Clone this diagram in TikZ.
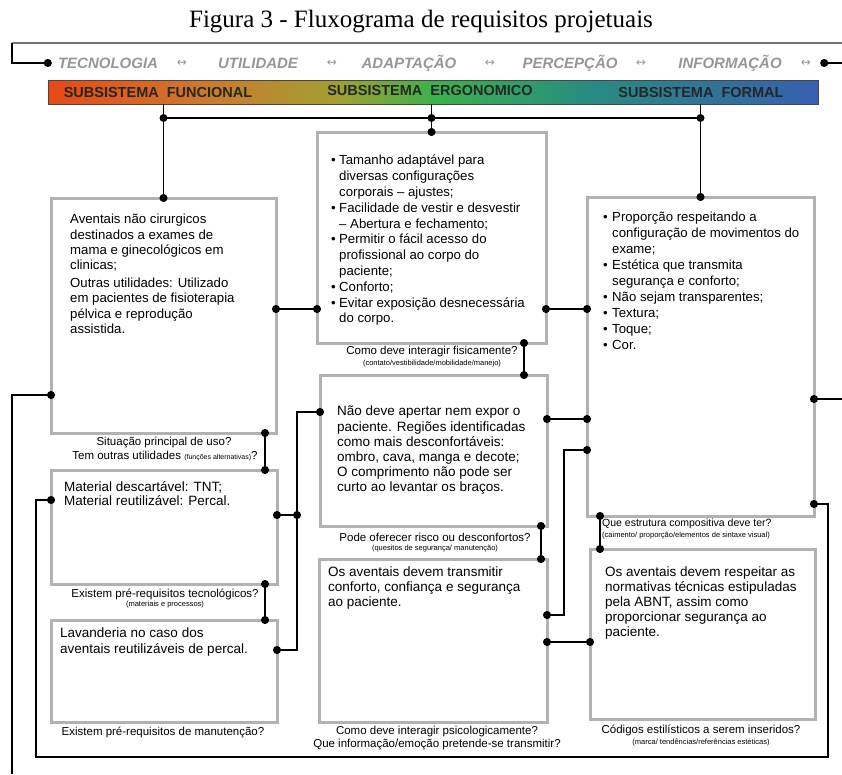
\documentclass[tikz,border=0pt]{standalone}
\usepackage{fontspec}
\setmainfont{Liberation Sans}
\newfontfamily\titlefont{Liberation Serif}
\newfontfamily\arrowfont{DejaVu Sans}
\usepackage{tikz}
\usetikzlibrary{arrows.meta}

\definecolor{boxgray}{RGB}{178,178,178}
\definecolor{wordgray}{RGB}{150,150,150}
\definecolor{barline}{RGB}{70,70,70}
\definecolor{barred}{RGB}{232,72,22}
\definecolor{barorange}{RGB}{205,120,45}
\definecolor{barolive}{RGB}{160,160,50}
\definecolor{bargreen}{RGB}{60,178,75}
\definecolor{barteal}{RGB}{40,140,128}
\definecolor{barblue}{RGB}{55,95,175}
\pgfdeclarehorizontalshading{subsystems}{100bp}{color(0bp)=(barred); color(25bp)=(barred); color(35bp)=(barorange); color(44bp)=(barolive); color(50bp)=(bargreen); color(60bp)=(barteal); color(75bp)=(barblue); color(100bp)=(barblue)}

\begin{document}
\begin{tikzpicture}[x=1pt, y=-1pt,
    box/.style={draw=boxgray, line width=3pt, inner sep=0pt, outer sep=0pt},
    wire/.style={line width=1.5pt, {Circle[length=8pt]}-{Circle[length=8pt]}, shorten <=-4pt, shorten >=-4pt},
    wirestart/.style={line width=1.5pt, {Circle[length=8pt]}-, shorten <=-4pt},
    wireend/.style={line width=1.5pt, -{Circle[length=8pt]}, shorten >=-4pt},
    plain/.style={line width=1.5pt},
    txt/.style={anchor=north west, align=left, inner sep=0pt},
    ask/.style={inner sep=0pt, font=\fontsize{11.5}{13}\selectfont},
    small/.style={inner sep=0pt, font=\fontsize{7.5}{9}\selectfont},
    word/.style={inner sep=0pt, text=wordgray, font=\fontsize{15}{18}\selectfont\bfseries\itshape},
    dblarrow/.style={inner sep=0pt, text=wordgray, font=\arrowfont\fontsize{12}{14}\selectfont},
    subsys/.style={inner sep=0pt, text=black!85, font=\fontsize{14.5}{16}\selectfont\bfseries}]
    \useasboundingbox (0,0) rectangle (842,774);

    % title
    \node[inner sep=0pt, font=\titlefont\fontsize{25}{28}\selectfont] (title) at (421,22) {Figura 3 - Fluxograma de requisitos projetuais};

    % top row of concepts
    \node[word] (tec) at (108,63) {TECNOLOGIA};
    \node[dblarrow] (ar1) at (182,63) {↔};
    \node[word] (uti) at (258,63) {UTILIDADE};
    \node[dblarrow] (ar2) at (332,63) {↔};
    \node[word] (ada) at (409,63) {ADAPTAÇÃO};
    \node[dblarrow] (ar3) at (490,63) {↔};
    \node[word] (per) at (570,63) {PERCEPÇÃO};
    \node[dblarrow] (ar4) at (641,63) {↔};
    \node[word] (inf) at (730,63) {INFORMAÇÃO};
    \node[dblarrow] (ar5) at (806,63) {↔};
    \coordinate (corner) at (12,43);
    \coordinate (edge) at (842,43);
    \draw[line width=1.2pt, black!55] (corner) -- (edge);
    \draw[wireend] (corner) -- (corner |- tec) -- ([xshift=-10pt]tec.west);
    \draw[wirestart] ([xshift=13pt]ar5.east) -- (ar5 -| edge);

    % subsystems bar
    \node[draw=barline, line width=0.8pt, shading=subsystems, minimum width=770pt, minimum height=24pt, inner sep=0pt] (bar) at (433,92) {};
    \node[subsys] (sfun) at (158,93) {SUBSISTEMA\ \ FUNCIONAL};
    \node[subsys] (serg) at (430,91) {SUBSISTEMA\ \ ERGONOMICO};
    \node[subsys] (sfor) at (701,93) {SUBSISTEMA\ \ FORMAL};

    % boxes
    \node[box, minimum width=225pt, minimum height=235pt] (fun1) at (163.5,315.5) {};
    \node[box, minimum width=226pt, minimum height=114pt] (fun2) at (164,527) {};
    \node[box, minimum width=226pt, minimum height=102pt] (fun3) at (164,671) {};
    \node[box, minimum width=229pt, minimum height=211pt] (erg1) at (431.5,237.5) {};
    \node[box, minimum width=227pt, minimum height=151pt] (erg2) at (433.5,450.5) {};
    \node[box, minimum width=228pt, minimum height=163pt] (erg3) at (433,640.5) {};
    \node[box, minimum width=227pt, minimum height=319pt] (for1) at (700.5,356.5) {};
    \node[box, minimum width=225pt, minimum height=170pt] (for2) at (702.5,634) {};

    % box texts
    \node[txt, font=\fontsize{13.2}{15.3}\selectfont] (fun1t) at (70,214) {Aventais não cirurgicos\\
        destinados a exames de\\
        mama e ginecológicos em\\
        clinicas;\\[2.5pt]
        Outras utilidades: Utilizado\\
        em pacientes de fisioterapia\\
        pélvica e reprodução\\
        assistida.};
    \node[txt, font=\fontsize{13.5}{14}\selectfont] (fun2t) at (64,481) {Material descartável: TNT;\\
        Material reutilizável: Percal.};
    \node[txt, font=\fontsize{13.5}{16}\selectfont] (fun3t) at (60,628) {Lavanderia no caso dos\\
        aventais reutilizáveis de percal.};
    \node[txt, font=\fontsize{13.2}{15.8}\selectfont] (erg1t) at (331,155) {\makebox[8pt][l]{\textbullet}Tamanho adaptável para\\
        \hspace*{8pt}diversas configurações\\
        \hspace*{8pt}corporais – ajustes;\\
        \makebox[8pt][l]{\textbullet}Facilidade de vestir e desvestir\\
        \hspace*{8pt}– Abertura e fechamento;\\
        \makebox[8pt][l]{\textbullet}Permitir o fácil acesso do\\
        \hspace*{8pt}profissional ao corpo do\\
        \hspace*{8pt}paciente;\\
        \makebox[8pt][l]{\textbullet}Conforto;\\
        \makebox[8pt][l]{\textbullet}Evitar exposição desnecessária\\
        \hspace*{8pt}do corpo.};
    \node[txt, font=\fontsize{13.5}{15.2}\selectfont] (erg2t) at (337,406) {Não deve apertar nem expor o\\
        paciente. Regiões identificadas\\
        como mais desconfortáveis:\\
        ombro, cava, manga e decote;\\
        O comprimento não pode ser\\
        curto ao levantar os braços.};
    \node[txt, font=\fontsize{13.5}{15}\selectfont] (erg3t) at (328,567) {Os aventais devem transmitir\\
        conforto, confiança e segurança\\
        ao paciente.};
    \node[txt, font=\fontsize{13.2}{16}\selectfont] (for1t) at (603,212) {\makebox[9pt][l]{\textbullet}Proporção respeitando a\\
        \hspace*{9pt}configuração de movimentos do\\
        \hspace*{9pt}exame;\\
        \makebox[9pt][l]{\textbullet}Estética que transmita\\
        \hspace*{9pt}segurança e conforto;\\
        \makebox[9pt][l]{\textbullet}Não sejam transparentes;\\
        \makebox[9pt][l]{\textbullet}Textura;\\
        \makebox[9pt][l]{\textbullet}Toque;\\
        \makebox[9pt][l]{\textbullet}Cor.};
    \node[txt, font=\fontsize{13.5}{15}\selectfont] (for2t) at (605,567) {Os aventais devem respeitar as\\
        normativas técnicas estipuladas\\
        pela ABNT, assim como\\
        proporcionar segurança ao\\
        paciente.};

    % questions under the boxes
    \node[ask] (q1a) at (164,443) {Situação principal de uso?};
    \node[ask] (q1b) at (165,456) {Tem outras utilidades {\fontsize{7}{8}\selectfont(funções alternativas)}?};
    \node[ask] (q2a) at (165,594) {Existem pré-requisitos tecnológicos?};
    \node[small] (q2b) at (165,605) {(materiais e processos)};
    \node[ask] (q3a) at (163,732) {Existem pré-requisitos de manutenção?};
    \node[ask] (q4a) at (432,352) {Como deve interagir fisicamente?};
    \node[small] (q4b) at (432,364) {(contato/vestibilidade/mobilidade/manejo)};
    \node[ask] (q5a) at (435,537) {Pode oferecer risco ou desconfortos?};
    \node[small] (q5b) at (435,549) {(quesitos de segurança/ manutenção)};
    \node[ask] (q6a) at (437,732) {Como deve interagir psicologicamente?};
    \node[ask] (q6b) at (437,745) {Que informação/emoção pretende-se transmitir?};
    \node[ask, anchor=west, font=\fontsize{10.5}{12}\selectfont] (q7a) at (602,524) {Que estrutura compositiva deve ter?};
    \node[small, anchor=west] (q7b) at (602,536) {(caimento/ proporção/elementos de sintaxe visual)};
    \node[ask] (q8a) at (701,730) {Códigos estilísticos a serem inseridos?};
    \node[small] (q8b) at (701,742) {(marca/ tendências/referências estéticas)};

    % bar -> first row
    \coordinate (bus) at (0,118);
    \draw[wireend] (fun1.north |- bar.south) -- (fun1.north);
    \draw[wireend] (erg1.north |- bar.south) -- (erg1.north);
    \draw[wireend] (for1.north |- bar.south) -- (for1.north);
    \draw[plain] (fun1.north |- bus) -- (for1.north |- bus);
    \fill (fun1.north |- bus) circle (4pt);
    \fill (erg1.north |- bus) circle (4pt);
    \fill (for1.north |- bus) circle (4pt);

    % first row across
    \draw[wire] (fun1.east |- 0,309) -- (erg1.west |- 0,309);
    \draw[wire] (erg1.east |- 0,309) -- (for1.west |- 0,309);

    % down each column
    \draw[wire] (fun1.south -| 265,0) -- (fun2.north -| 265,0);
    \draw[wire] (fun2.south -| 265,0) -- (fun3.north -| 265,0);
    \draw[wire] (erg1.south -| 524,0) -- (erg2.north -| 524,0);
    \draw[wire] (erg2.south -| 541,0) -- (erg3.north -| 541,0);
    \draw[wire] (for1.south -| 600,0) -- (for2.north -| 600,0);

    % ergonomic -> formal
    \coordinate (riser) at (564,0);
    \draw[wire] (erg2.east |- 0,419) -- (for1.west |- 0,419);
    \draw[wire] (erg3.east |- 0,615) -- (riser |- 0,615) -- (riser |- 0,450) -- (for1.west |- 0,450);
    \draw[wire] (erg3.east |- 0,642) -- (for2.west |- 0,642);

    % ergonomic -> functional
    \coordinate (rail) at (297,0);
    \draw[wire] (erg2.west |- 0,412) -- (rail |- 0,412) -- (rail |- 0,650) -- (fun3.east |- 0,650);
    \draw[wire] (fun2.east |- 0,515) -- (rail |- 0,515);

    % outer loops
    \coordinate (outl) at (12,774);
    \coordinate (loopl) at (36,757);
    \coordinate (loopr) at (828,757);
    \draw[wirestart] (fun1.west |- 0,395) -- (outl |- 0,395) -- (outl);
    \draw[wire] (fun2.west |- 0,500) -- (loopl |- 0,500) -- (loopl) -- (loopr) -- (loopr |- 0,504) -- (for1.east |- 0,504);
    \draw[wirestart] (for1.east |- 0,399) -- (edge |- 0,399);
\end{tikzpicture}
\end{document}
